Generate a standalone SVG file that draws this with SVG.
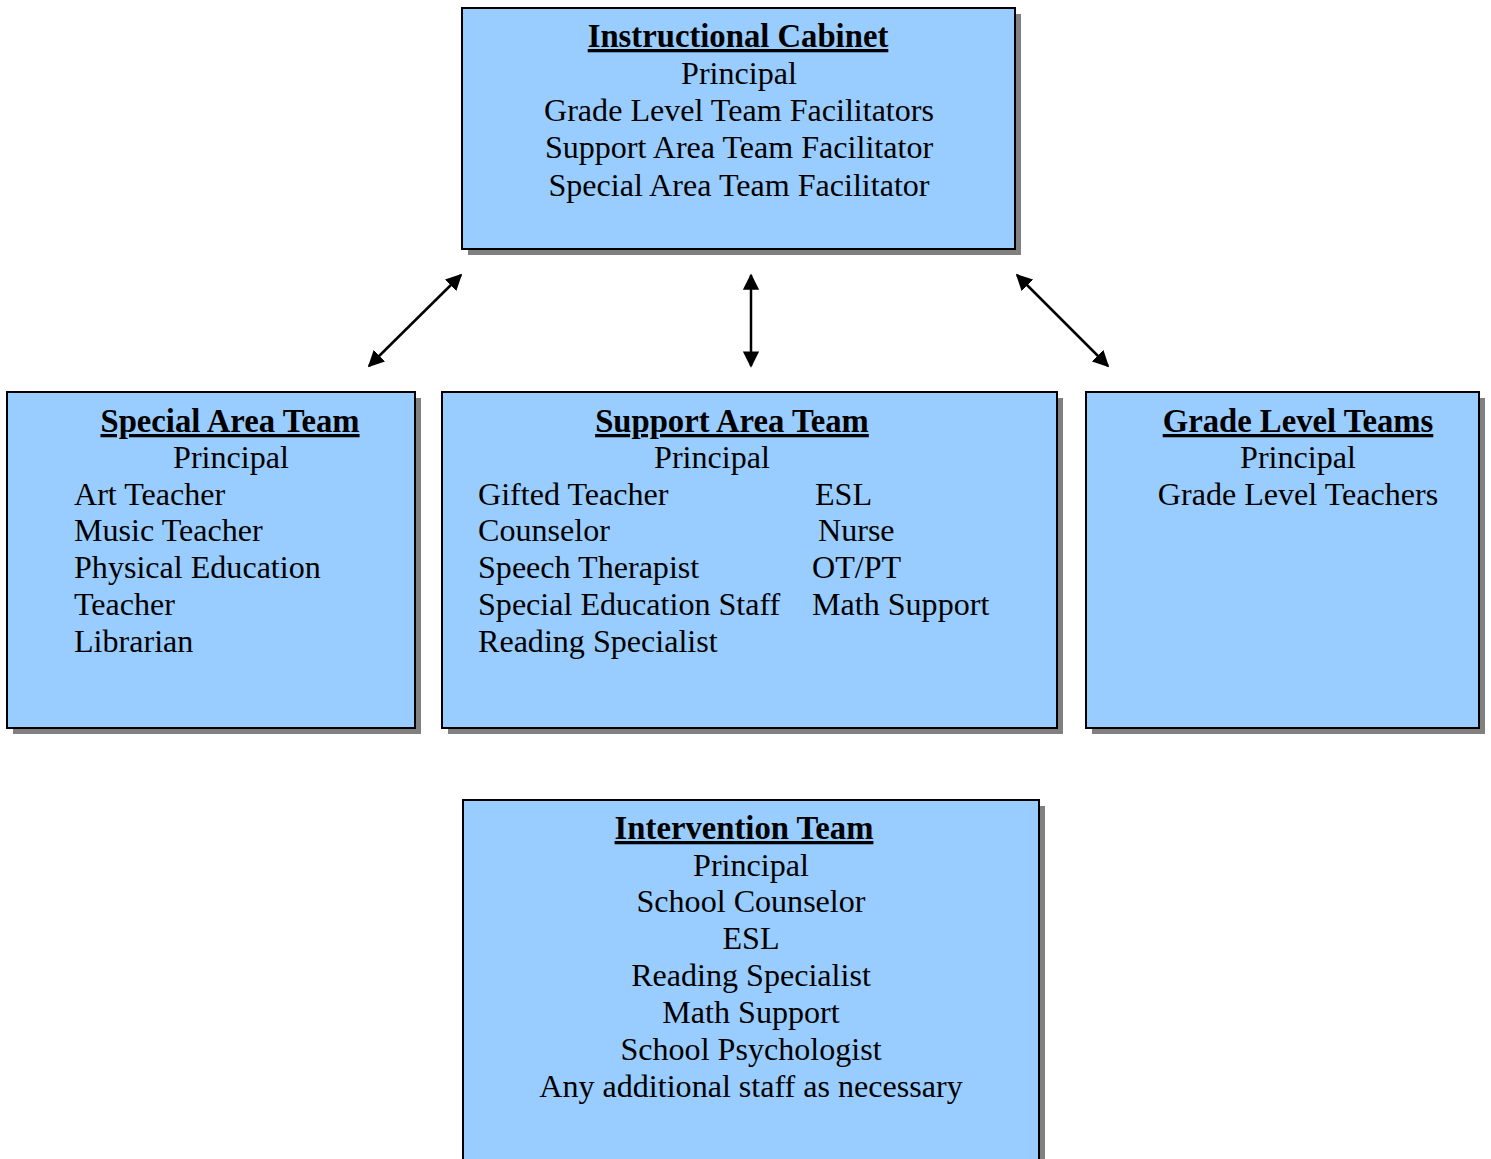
<svg xmlns="http://www.w3.org/2000/svg" width="1491" height="1159" viewBox="0 0 1491 1159">
<style>
.box{fill:#99CCFF;stroke:#000;stroke-width:2}
.sh{fill:#808080}
text{font-family:"Liberation Serif","Times New Roman",serif;font-size:32.1px;fill:#000}
.t{font-weight:bold;text-decoration:underline;font-size:32.7px}
.c{text-anchor:middle}
.ln{stroke:#000;stroke-width:2.5;fill:none;marker-start:url(#ah);marker-end:url(#ah)}
</style>
<defs>
<marker id="ah" viewBox="0 0 10 10" refX="9" refY="5" markerWidth="6.5" markerHeight="6.5" markerUnits="strokeWidth" orient="auto-start-reverse">
<path d="M0,0 L10,5 L0,10 z" fill="#000"/>
</marker>
</defs>
<g id="connectors">
<line class="ln" x1="461" y1="275" x2="369" y2="366"/>
<line class="ln" x1="751" y1="275" x2="751" y2="366"/>
<line class="ln" x1="1017" y1="275" x2="1108" y2="366"/>
</g>
<g id="instructional-cabinet">
<rect class="sh" x="468" y="14" width="553" height="241"/>
<rect class="box" x="462" y="8" width="553" height="241"/>
<text class="c t" x="738" y="47">Instructional Cabinet</text>
<text class="c" x="739" y="84">Principal</text>
<text class="c" x="739" y="121">Grade Level Team Facilitators</text>
<text class="c" x="739" y="158">Support Area Team Facilitator</text>
<text class="c" x="739" y="196">Special Area Team Facilitator</text>
</g>
<g id="special-area-team">
<rect class="sh" x="13" y="398" width="408" height="336"/>
<rect class="box" x="7" y="392" width="408" height="336"/>
<text class="c t" x="230" y="432">Special Area Team</text>
<text class="c" x="231" y="468">Principal</text>
<text x="74" y="505">Art Teacher</text>
<text x="74" y="541">Music Teacher</text>
<text x="74" y="578">Physical Education</text>
<text x="74" y="615">Teacher</text>
<text x="74" y="652">Librarian</text>
</g>
<g id="support-area-team">
<rect class="sh" x="448" y="398" width="615" height="336"/>
<rect class="box" x="442" y="392" width="615" height="336"/>
<text class="c t" x="732" y="432">Support Area Team</text>
<text class="c" x="712" y="468">Principal</text>
<text x="478" y="505">Gifted Teacher</text>
<text x="478" y="541">Counselor</text>
<text x="478" y="578">Speech Therapist</text>
<text x="478" y="615">Special Education Staff</text>
<text x="478" y="652">Reading Specialist</text>
<text x="815" y="505">ESL</text>
<text x="818" y="541">Nurse</text>
<text x="812" y="578">OT/PT</text>
<text x="812" y="615">Math Support</text>
</g>
<g id="grade-level-teams">
<rect class="sh" x="1092" y="398" width="393" height="336"/>
<rect class="box" x="1086" y="392" width="393" height="336"/>
<text class="c t" x="1298" y="432">Grade Level Teams</text>
<text class="c" x="1298" y="468">Principal</text>
<text class="c" x="1298" y="505">Grade Level Teachers</text>
</g>
<g id="intervention-team">
<rect class="sh" x="469" y="806" width="576" height="370"/>
<rect class="box" x="463" y="800" width="576" height="370"/>
<text class="c t" x="744" y="839">Intervention Team</text>
<text class="c" x="751" y="876">Principal</text>
<text class="c" x="751" y="912">School Counselor</text>
<text class="c" x="751" y="949">ESL</text>
<text class="c" x="751" y="986">Reading Specialist</text>
<text class="c" x="751" y="1023">Math Support</text>
<text class="c" x="751" y="1060">School Psychologist</text>
<text class="c" x="751" y="1097">Any additional staff as necessary</text>
</g>
</svg>
